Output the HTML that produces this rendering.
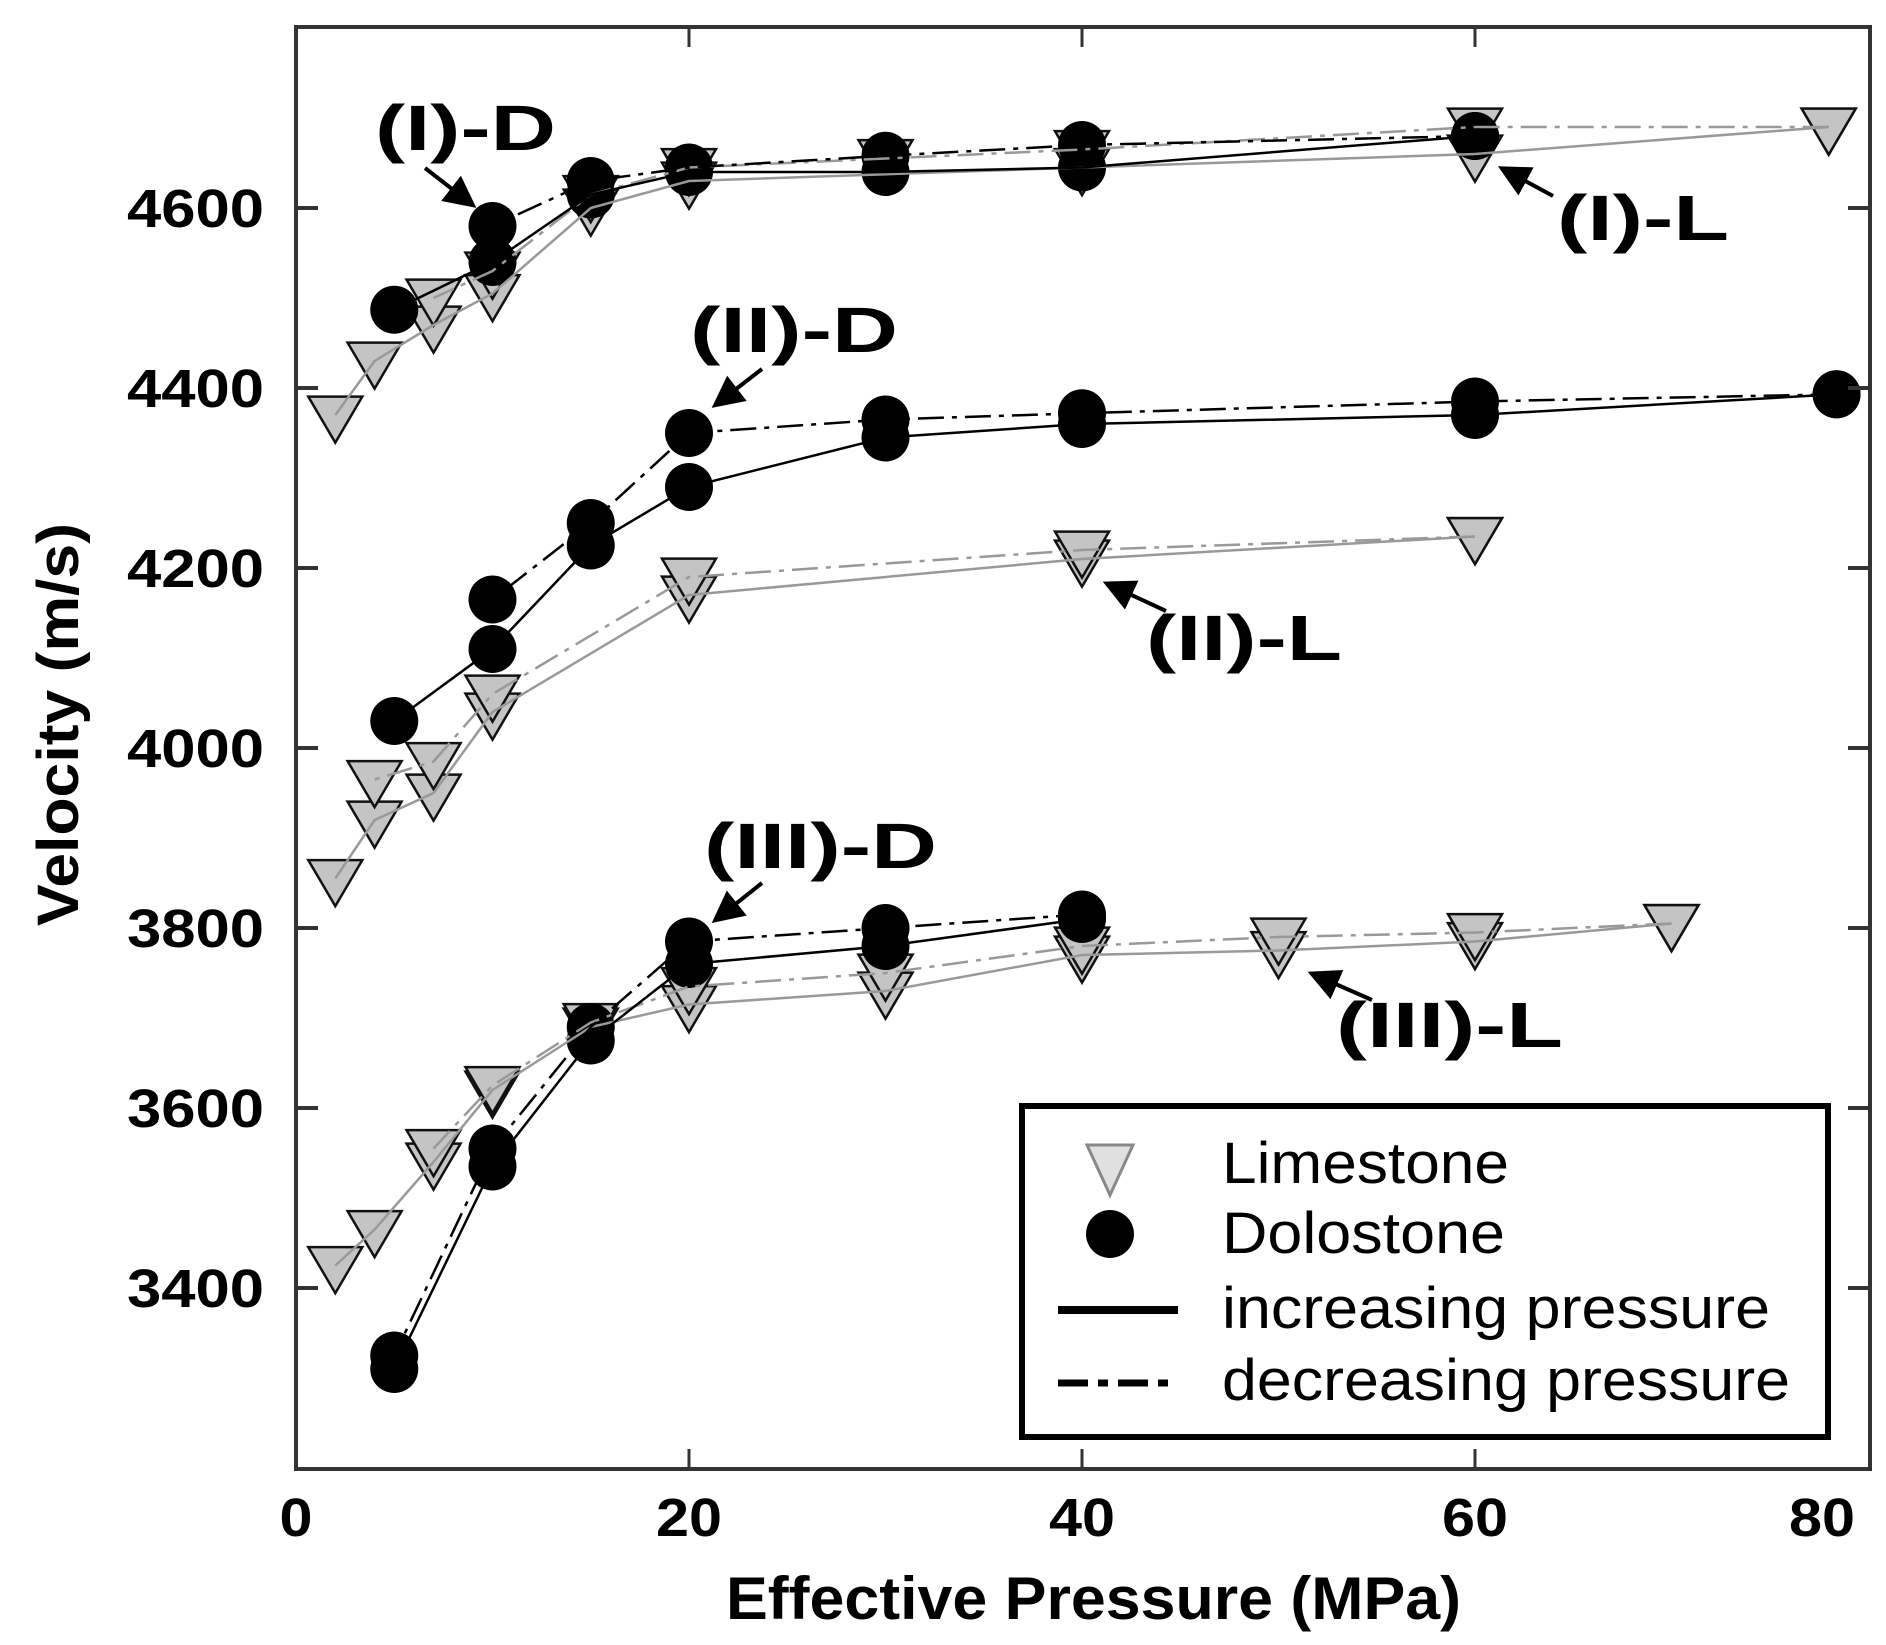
<!DOCTYPE html>
<html><head><meta charset="utf-8"><style>
html,body{margin:0;padding:0;background:#fff;}
svg{display:block;}
text{font-family:"Liberation Sans",Arial,sans-serif;}
</style></head><body>
<svg id="chart" width="1886" height="1645" viewBox="0 0 1886 1645" xmlns="http://www.w3.org/2000/svg">
<g id="series"></g>
<g id="axes"></g>
</svg>
<script>
// ---- data ----
const xTicks = [0, 20, 40, 60, 80];
const yTicks = [3400, 3600, 3800, 4000, 4200, 4400, 4600];
// Group I
const I_L_incP = [2, 4, 7, 10, 15, 20, 40, 60, 78];
const I_L_incV = [4370, 4430, 4470, 4505, 4600, 4630, 4645, 4660, 4690];
const I_L_decP = [78, 60, 40, 30, 20, 15, 10, 7];
const I_L_decV = [4690, 4690, 4665, 4655, 4645, 4615, 4530, 4500];
const I_D_incP = [5, 10, 15, 20, 30, 40, 60];
const I_D_incV = [4487, 4540, 4615, 4640, 4640, 4645, 4680];
const I_D_decP = [60, 40, 30, 20, 15, 10];
const I_D_decV = [4680, 4670, 4658, 4645, 4630, 4580];
// Group II
const II_L_incP = [2, 4, 7, 10, 20, 40, 60];
const II_L_incV = [3855, 3920, 3950, 4040, 4170, 4210, 4235];
const II_L_decP = [60, 40, 20, 10, 7, 4];
const II_L_decV = [4235, 4220, 4190, 4060, 3985, 3965];
const II_D_incP = [5, 10, 15, 20, 30, 40, 60, 78.4];
const II_D_incV = [4030, 4110, 4225, 4290, 4345, 4360, 4370, 4393];
const II_D_decP = [78.4, 60, 40, 30, 20, 15, 10];
const II_D_decV = [4393, 4385, 4372, 4365, 4350, 4250, 4165];
// Group III
const III_L_incP = [2, 4, 7, 10, 15, 20, 30, 40, 50, 60, 70];
const III_L_incV = [3425, 3465, 3540, 3620, 3690, 3715, 3730, 3770, 3775, 3785, 3805];
const III_L_decP = [70, 60, 50, 40, 30, 20, 15, 10, 7];
const III_L_decV = [3805, 3795, 3790, 3780, 3750, 3735, 3695, 3625, 3555];
const III_D_incP = [5, 10, 15, 20, 30, 40];
const III_D_incV = [3310, 3535, 3675, 3760, 3780, 3810];
const III_D_decP = [40, 30, 20, 15, 10, 5];
const III_D_decV = [3815, 3800, 3785, 3690, 3555, 3325];

// ---- axes functions ----
const X0 = 296, XR = 1870, YT = 27, YB = 1469;
function xs(p){ return 296 + p * 19.65; }
function ys(v){ return 208 + (4600 - v) * 0.9; }
const NS = "http://www.w3.org/2000/svg";
function mk(tag, attrs, parent){
  const e = document.createElementNS(NS, tag);
  for (const k in attrs) e.setAttribute(k, attrs[k]);
  parent.appendChild(e);
  return e;
}
const S = document.getElementById('series');
const A = document.getElementById('axes');

function drawLine(P, V, color, dashed, name){
  const pts = P.map((p,i)=> xs(p).toFixed(1)+","+ys(V[i]).toFixed(1)).join(" ");
  const l = mk('polyline', {points:pts, fill:'none', stroke:color, 'stroke-width':2.5}, S);
  if (dashed) l.setAttribute('stroke-dasharray', '26 8 5 8');
  
  
}
function tri(cx, cy, name){
  const w = 27, h = 46;
  const t = mk('polygon', {points:`${cx-w},${cy-h*0.4} ${cx+w},${cy-h*0.4} ${cx},${cy+h*0.6}`, fill:'#c4c4c4', stroke:'#111', 'stroke-width':2.5}, S);
  
  
}
function circ(cx, cy, name){
  const c = mk('circle', {cx:cx, cy:cy, r:24, fill:'#000'}, S);
  
  
}
function drawTris(P, V, name){ P.forEach((p,i)=> tri(xs(p), ys(V[i]), name)); }
function drawCircs(P, V, name){ P.forEach((p,i)=> circ(xs(p), ys(V[i]), name)); }

const groups = [
  ['i', I_L_incP, I_L_incV, I_L_decP, I_L_decV, I_D_incP, I_D_incV, I_D_decP, I_D_decV],
  ['ii', II_L_incP, II_L_incV, II_L_decP, II_L_decV, II_D_incP, II_D_incV, II_D_decP, II_D_decV],
  ['iii', III_L_incP, III_L_incV, III_L_decP, III_L_decV, III_D_incP, III_D_incV, III_D_decP, III_D_decV]
];
groups.forEach(g=>{
  drawTris(g[1], g[2], 'limestone-point-'+g[0]);
  drawTris(g[3], g[4], 'limestone-point-'+g[0]);
  drawCircs(g[5], g[6], 'dolostone-point-'+g[0]);
  drawCircs(g[7], g[8], 'dolostone-point-'+g[0]);
  drawLine(g[1], g[2], '#999', false, 'limestone-increasing-'+g[0]);
  drawLine(g[3], g[4], '#999', true, 'limestone-decreasing-'+g[0]);
  drawLine(g[5], g[6], '#000', false, 'dolostone-increasing-'+g[0]);
  drawLine(g[7], g[8], '#000', true, 'dolostone-decreasing-'+g[0]);
});

// ---- frame & ticks ----
const fr = mk('rect', {x:X0, y:YT, width:XR-X0, height:YB-YT, fill:'none', stroke:'#333', 'stroke-width':4}, A);


xTicks.forEach(t=>{
  const x = xs(t);
  if (t>0 && t<80){
    mk('line', {x1:x, y1:YB, x2:x, y2:YB-20, stroke:'#333', 'stroke-width':3}, A);
    mk('line', {x1:x, y1:YT, x2:x, y2:YT+20, stroke:'#333', 'stroke-width':3}, A);
  }
  const lx = Math.min(x, 1822);
  const s = String(t);
  const tx = mk('text', {x:lx, y:1536, 'font-size':54, 'font-weight':'bold', 'text-anchor':'middle', textLength: s.length*33, lengthAdjust:'spacingAndGlyphs'}, A);
  tx.textContent = s;
  
  
});
yTicks.forEach(t=>{
  const y = ys(t);
  mk('line', {x1:X0, y1:y, x2:X0+22, y2:y, stroke:'#333', 'stroke-width':4}, A);
  mk('line', {x1:XR, y1:y, x2:XR-22, y2:y, stroke:'#333', 'stroke-width':4}, A);
  const tx = mk('text', {x:127, y:y+19, 'font-size':54, 'font-weight':'bold', textLength:137, lengthAdjust:'spacingAndGlyphs'}, A);
  tx.textContent = t;
  
  
});
</script>
<svg style="position:absolute;left:0;top:0" width="1886" height="1645">
<defs><marker id="ah" markerWidth="8" markerHeight="8" refX="6" refY="4" orient="auto"><path d="M0,0 L8,4 L0,8 z" fill="#000"/></marker></defs>
<text x="726" y="1619" font-size="60" font-weight="bold" textLength="735" lengthAdjust="spacingAndGlyphs" style="font-family:'Liberation Sans',sans-serif">Effective Pressure (MPa)</text>
<text x="-201" y="0" font-size="58" font-weight="bold" textLength="403" lengthAdjust="spacingAndGlyphs" transform="translate(78,725) rotate(-90)" style="font-family:'Liberation Sans',sans-serif">Velocity (m/s)</text>
<g font-size="64" font-weight="bold" style="font-family:'Liberation Sans',sans-serif" lengthAdjust="spacingAndGlyphs">
<text x="375" y="150" textLength="181" lengthAdjust="spacingAndGlyphs">(I)-D</text>
<text x="1557" y="240" textLength="172" lengthAdjust="spacingAndGlyphs">(I)-L</text>
<text x="690" y="352" textLength="208" lengthAdjust="spacingAndGlyphs">(II)-D</text>
<text x="1146" y="660" textLength="196" lengthAdjust="spacingAndGlyphs">(II)-L</text>
<text x="704" y="868" textLength="233" lengthAdjust="spacingAndGlyphs">(III)-D</text>
<text x="1336" y="1047" textLength="227" lengthAdjust="spacingAndGlyphs">(III)-L</text>
</g>
<g stroke="#000" stroke-width="4" marker-end="url(#ah)">
<line x1="425" y1="168" x2="470" y2="203"/>
<line x1="1553" y1="196" x2="1505" y2="170"/>
<line x1="762" y1="369" x2="718" y2="403"/>
<line x1="1166" y1="611" x2="1110" y2="585"/>
<line x1="762" y1="883" x2="718" y2="918"/>
<line x1="1372" y1="1000" x2="1315" y2="975"/>
</g>
<g>
<rect x="1022" y="1106" width="806" height="331" fill="#fff" stroke="#000" stroke-width="6"/>
<polygon points="1087,1145 1133,1145 1110,1195" fill="#e0e0e0" stroke="#888" stroke-width="3"/>
<circle cx="1110" cy="1234" r="24" fill="#000"/>
<line x1="1058" y1="1310" x2="1178" y2="1310" stroke="#000" stroke-width="8"/>
<line x1="1058" y1="1383" x2="1178" y2="1383" stroke="#000" stroke-width="7" stroke-dasharray="30 10 10 10"/>
<g font-size="58" style="font-family:'Liberation Sans',sans-serif">
<text x="1222" y="1183" textLength="287" lengthAdjust="spacingAndGlyphs">Limestone</text>
<text x="1222" y="1253" textLength="283" lengthAdjust="spacingAndGlyphs">Dolostone</text>
<text x="1222" y="1328" textLength="548" lengthAdjust="spacingAndGlyphs">increasing pressure</text>
<text x="1222" y="1400" textLength="568" lengthAdjust="spacingAndGlyphs">decreasing pressure</text>
</g>
</g>
</svg>
</body></html>
